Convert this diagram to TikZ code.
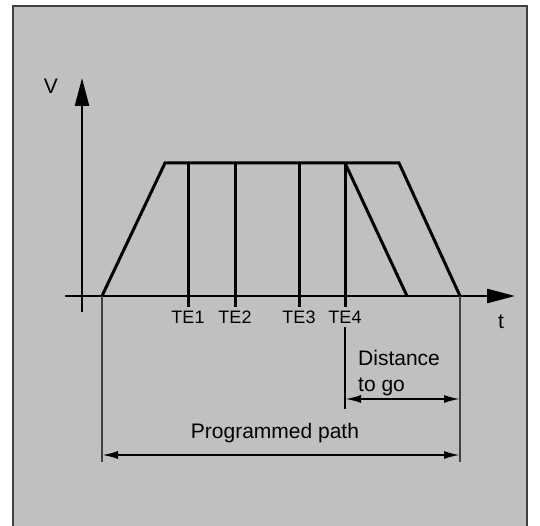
\documentclass[tikz,border=0pt]{standalone}
\usepackage{fontspec}
\setmainfont{Liberation Sans}
\usetikzlibrary{arrows.meta,positioning,calc}
\definecolor{panel}{RGB}{192,192,192}

\begin{document}
\begin{tikzpicture}[x=1pt,y=-1pt,
  lbl/.style={inner sep=0pt,font=\fontsize{21}{26}\selectfont},
  tick/.style={inner sep=0pt,font=\fontsize{18}{21}\selectfont},
  curve/.style={line width=3pt},
  axis/.style={line width=2.4pt,-{Triangle[length=28pt,width=14pt]}},
  ext/.style={line width=1.2pt,black!75},
  dim/.style={line width=2pt,{Latex[length=16pt,width=8pt]}-{Latex[length=16pt,width=8pt]}}]
\useasboundingbox (0,0) rectangle (540,526);
\fill[panel] (13,6) rectangle (527,526);
\draw[line width=1.5pt,black!75] (13,526) -- (13,6) -- (527,6) -- (527,526);
% axes
\coordinate (xs) at (65,296); \coordinate (xe) at (515,296);
\coordinate (ys) at (82,312); \coordinate (ye) at (82,78);
\draw[axis] (xs) -- (xe); \draw[axis] (ys) -- (ye);
\node[lbl,anchor=base] (vlab) at (51,94) {V};
\node[lbl,anchor=base] (tlab) at (501,328) {t};
% velocity profile
\coordinate (p0) at (102,296); \coordinate (p1) at (165,163);
\coordinate (p2) at (399,163); \coordinate (p3) at (460,296);
\coordinate (b4) at (407,296);
\draw[curve] (p0) -- (p1) -- (p2) -- (p3);
\foreach \x/\n in {188/1,235/2,299/3,345/4}{
  \coordinate (te\n) at (\x,163); \coordinate (tf\n) at (\x,307);
  \draw[curve] (te\n) -- (tf\n);
  \node[tick,anchor=base] (tl\n) at (\x,323) {TE\n};
}
\draw[curve] (te4) -- (b4);
% dimensions
\coordinate (d0) at (345,327); \coordinate (d1) at (345,409);
\coordinate (e0) at (102,462); \coordinate (e3) at (460,462);
\draw[line width=2.4pt] (d0) -- (d1);
\draw[ext] (p0) -- (e0); \draw[ext] (p3) -- (e3);
\draw[dim] (d0 |- 0,399) -- (e3 |- 0,399);
\draw[dim] (e0 |- 0,455) -- (e3 |- 0,455);
\node[lbl,anchor=north west,align=left] (dist) at (358,350) {Distance\\to go};
\node[lbl,anchor=base] (prog) at (275,438) {Programmed path};
\end{tikzpicture}
\end{document}
